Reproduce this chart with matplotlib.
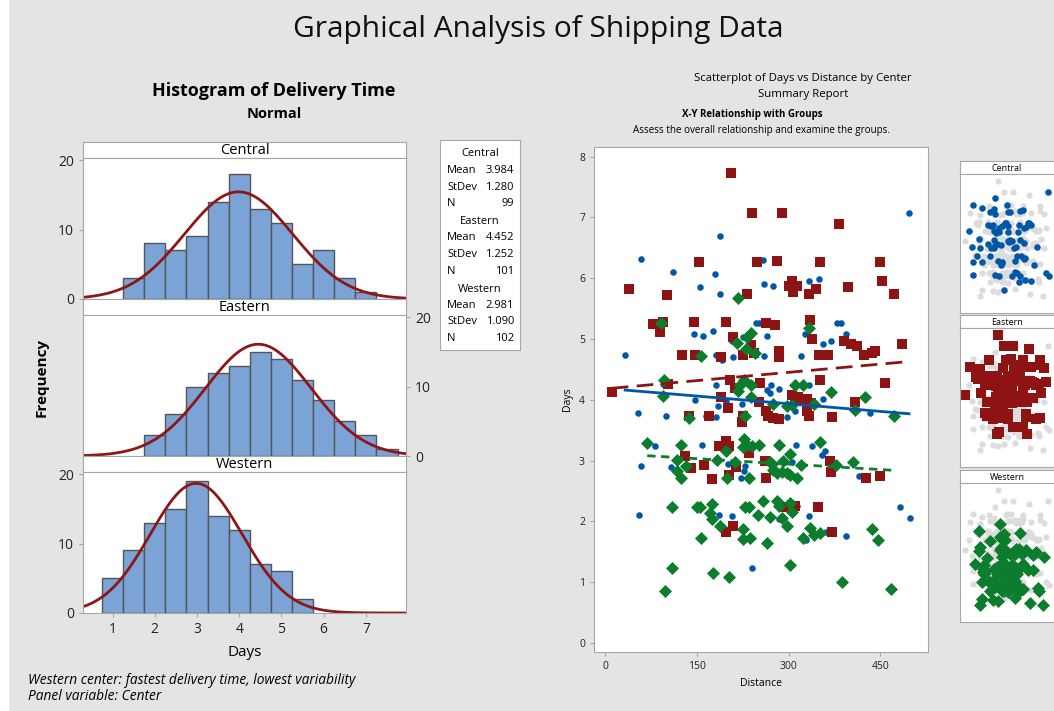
import numpy as np
import matplotlib.pyplot as plt
from matplotlib.patches import Rectangle

plt.rcParams['font.family'] = ['Open Sans', 'DejaVu Sans']

# ---- histogram data (bin width 0.5 days) ----
centers = ['Central', 'Eastern', 'Western']
hist_start = [1.25, 1.75, 0.75]
hist_counts = [
    [3, 8, 7, 9, 14, 18, 13, 11, 5, 7, 3, 1],
    [3, 6, 10, 12, 13, 15, 14, 11, 8, 5, 3, 1],
    [5, 9, 13, 15, 19, 14, 12, 7, 6, 2],
]
means = [3.984, 4.452, 2.981]
stdevs = [1.280, 1.252, 1.090]
ns = [99, 101, 102]

# ---- scatter data (distance, days) ----
central_pts = [
    (59, 6.32), (188, 6.70), (111, 6.11), (180, 6.07), (155, 5.86), (188, 5.74), (247, 5.26), (252, 5.26),
    (145, 5.09), (161, 5.05), (176, 5.14), (208, 4.96), (226, 5.03), (33, 4.74), (181, 4.74), (191, 4.65),
    (210, 4.70), (94, 4.26), (182, 4.24), (147, 3.99), (185, 3.89), (198, 3.98), (224, 3.93), (54, 3.78),
    (497, 7.07), (258, 6.30), (260, 5.91), (275, 5.87), (333, 5.96), (349, 5.98), (379, 5.26), (385, 5.26),
    (327, 5.09), (265, 5.05), (394, 5.09), (356, 4.92), (369, 4.97), (260, 4.72), (320, 4.72), (272, 4.24),
    (284, 4.18), (265, 4.16), (270, 4.12), (333, 4.24), (356, 4.02), (433, 3.79), (311, 3.82), (297, 3.72),
    (100, 3.74), (165, 3.74), (182, 3.71), (82, 3.24), (59, 2.91), (108, 2.89), (159, 3.26), (201, 2.95),
    (229, 2.91), (227, 2.83), (223, 2.72), (56, 2.10), (187, 2.11), (208, 2.09), (241, 1.24),
    (312, 3.26), (338, 3.24), (360, 3.16), (354, 3.09), (306, 2.97), (416, 2.74), (306, 2.31), (314, 2.25),
    (284, 2.04), (333, 2.08), (329, 1.70), (394, 1.76), (362, 1.82), (482, 2.23), (499, 2.06),
]
eastern_pts = [
    (206, 7.74), (241, 7.07), (153, 6.26), (249, 6.26), (40, 5.82), (101, 5.72), (232, 5.74), (78, 5.25),
    (94, 5.28), (90, 5.11), (145, 5.28), (197, 5.28), (210, 5.04), (239, 4.90), (126, 4.74), (147, 4.74),
    (190, 4.70), (225, 4.74), (243, 4.77), (11, 4.13), (103, 4.26), (190, 4.05), (205, 4.32), (213, 4.19),
    (201, 3.86), (252, 3.97), (289, 7.07), (383, 6.90), (281, 6.28), (352, 6.26), (450, 6.26), (305, 5.96),
    (300, 5.87), (314, 5.87), (308, 5.78), (345, 5.83), (333, 5.74), (398, 5.85), (452, 5.95), (473, 5.74),
    (263, 5.27), (278, 5.23), (335, 5.32), (339, 5.00), (390, 4.97), (402, 4.92), (412, 4.89), (486, 4.92),
    (284, 4.81), (285, 4.71), (349, 4.74), (364, 4.74), (423, 4.74), (436, 4.77), (442, 4.81), (254, 4.28),
    (352, 4.32), (457, 4.27), (316, 4.05), (322, 3.98), (330, 4.02), (310, 4.02), (306, 4.08), (336, 3.95),
    (409, 3.97), (263, 3.81), (330, 3.81), (371, 3.71), (138, 3.73), (170, 3.73), (225, 3.73), (224, 3.63),
    (186, 3.24), (197, 3.33), (203, 3.24), (130, 3.08), (140, 2.88), (162, 2.93), (175, 2.70), (214, 2.89),
    (203, 2.77), (236, 3.13), (198, 1.83), (210, 1.92), (262, 3.00), (263, 2.72), (367, 3.00), (369, 2.82),
    (427, 2.72), (450, 2.75), (292, 2.23), (311, 2.25), (348, 2.23), (371, 1.83), (267, 3.73), (275, 3.70),
    (285, 3.68), (333, 3.74),
]
western_pts = [
    (217, 5.68), (92, 5.27), (232, 5.04), (239, 5.10), (216, 4.93), (230, 4.84), (245, 4.77), (157, 4.72),
    (96, 4.33), (94, 4.07), (221, 4.25), (227, 4.33), (218, 4.15), (239, 4.24), (239, 4.05), (333, 5.18),
    (311, 4.24), (324, 4.24), (369, 4.13), (425, 4.04), (275, 3.93), (297, 3.89), (305, 3.92), (342, 3.93),
    (408, 3.84), (472, 3.74), (229, 3.74), (138, 3.70), (69, 3.29), (124, 3.26), (117, 3.01), (132, 2.91),
    (118, 2.83), (124, 2.72), (183, 3.01), (198, 3.15), (212, 2.97), (199, 2.72), (227, 3.35), (225, 3.23),
    (232, 3.26), (240, 3.24), (251, 3.26), (235, 2.72), (109, 2.24), (150, 2.24), (155, 2.24), (175, 2.28),
    (172, 2.13), (175, 2.04), (188, 1.92), (157, 1.72), (225, 1.87), (226, 1.71), (237, 1.72), (229, 2.24),
    (235, 2.24), (250, 2.11), (110, 1.24), (176, 1.15), (202, 1.09), (98, 0.86), (284, 3.26), (303, 3.11),
    (351, 3.31), (270, 2.98), (273, 2.95), (291, 3.00), (320, 2.93), (378, 2.93), (406, 2.97), (275, 2.84),
    (281, 2.79), (289, 2.81), (297, 2.79), (303, 2.76), (314, 2.71), (258, 2.33), (281, 2.33), (284, 2.25),
    (302, 2.30), (306, 2.16), (270, 2.07), (289, 2.05), (297, 1.93), (265, 1.64), (324, 1.72), (335, 1.89),
    (341, 1.78), (352, 1.81), (436, 1.87), (446, 1.70), (303, 1.28), (388, 1.01), (468, 0.89),
]
# fitted lines (distance endpoints, days endpoints)
fit_x = [(33, 497), (11, 486), (69, 471)]
fit_y = [(4.16, 3.77), (4.19, 4.62), (3.08, 2.84)]

W, H = 1054, 711
BG = '#e4e4e4'
EDGE = '#a6a6a6'
BAR = '#7ba3d6'
CURVE = '#8e1616'
cols = ['#0057a8', '#8e1414', '#0b7d2c']
marks = ['o', 's', 'D']
msize = [22, 46, 44]


def box(l, t, r, b):
    return [l / W, 1 - b / H, (r - l) / W, (b - t) / H]


def txt(x, y, s, **kw):
    fig.text(x / W, 1 - y / H, s, **kw)


def style(ax):
    for sp in ax.spines.values():
        sp.set_color(EDGE)
    ax.tick_params(colors=EDGE, labelcolor='#222222', length=3)


fig = plt.figure(figsize=(W / 100, H / 100), dpi=100, facecolor=BG)
fig.patches.append(Rectangle((0, 0), 8 / W, 1, transform=fig.transFigure, color='white', zorder=0))

txt(538, 30, 'Graphical Analysis of Shipping Data', fontsize=21.5, ha='center', va='center', color='#111111')
txt(274, 91, 'Histogram of Delivery Time', fontsize=13, fontweight='bold', ha='center', va='center')
txt(274, 114, 'Normal', fontsize=10.5, fontweight='bold', ha='center', va='center')

# ---- histograms ----
tops = [142, 299, 456]
xs = np.linspace(0.3, 7.95, 300)
for i in range(3):
    t = tops[i]
    sax = fig.add_axes(box(83, t, 406, t + 16))
    sax.set_facecolor('white')
    sax.set_xticks([])
    sax.set_yticks([])
    style(sax)
    sax.text(0.5, 0.45, centers[i], ha='center', va='center', fontsize=10.5, transform=sax.transAxes)

    ax = fig.add_axes(box(83, t + 16, 406, t + 157))
    lefts = hist_start[i] + 0.5 * np.arange(len(hist_counts[i]))
    ax.bar(lefts, hist_counts[i], width=0.5, align='edge', color=BAR, edgecolor='#555555', linewidth=1)
    ys = ns[i] * 0.5 * np.exp(-0.5 * ((xs - means[i]) / stdevs[i]) ** 2) / (stdevs[i] * np.sqrt(2 * np.pi))
    ax.plot(xs, ys, color=CURVE, lw=2)
    ax.set_xlim(0.3, 7.95)
    ax.set_ylim(0, 20.3)
    ax.set_yticks([0, 10, 20])
    style(ax)
    ax.tick_params(labelsize=10)
    if i == 1:
        ax.yaxis.tick_right()
    if i < 2:
        ax.set_xticks([])
    else:
        ax.set_xticks(range(1, 8))
        ax.set_xlabel('Days', fontsize=11, labelpad=6)

txt(42, 378, 'Frequency', fontsize=11, fontweight='bold', rotation=90, ha='center', va='center')

# stats legend box
lax = fig.add_axes(box(440, 140, 520, 350))
lax.set_facecolor('white')
lax.set_xticks([])
lax.set_yticks([])
style(lax)
y0 = 154
for i in range(3):
    txt(480, y0, centers[i], fontsize=8, ha='center', va='center')
    rows = [('Mean', '%.3f' % means[i]), ('StDev', '%.3f' % stdevs[i]), ('N', str(ns[i]))]
    for k, (a, b) in enumerate(rows):
        yy = y0 + 16.5 * (k + 1)
        txt(447, yy, a, fontsize=8, ha='left', va='center')
        txt(514, yy, b, fontsize=8, ha='right', va='center')
    y0 += 67.5

txt(28, 680, 'Western center: fastest delivery time, lowest variability', fontsize=9.9, style='italic', va='center')
txt(28, 697, 'Panel variable: Center', fontsize=9.9, style='italic', va='center')

# ---- scatterplot ----
txt(803, 79, 'Scatterplot of Days vs Distance by Center', fontsize=8.2, ha='center', va='center')
txt(803, 95, 'Summary Report', fontsize=8.2, ha='center', va='center')
txt(752, 115, 'X-Y Relationship with Groups', fontsize=7, fontweight='bold', ha='center', va='center')
txt(762, 130, 'Assess the overall relationship and examine the groups.', fontsize=7.1, ha='center', va='center')

groups = [central_pts, eastern_pts, western_pts]
ax = fig.add_axes(box(594, 147, 928, 652))
ax.set_facecolor('white')
for i in range(3):
    d = np.array(groups[i])
    ax.scatter(d[:, 0], d[:, 1], s=msize[i], marker=marks[i], color=cols[i], linewidths=0, zorder=3)
ax.plot(fit_x[0], fit_y[0], color=cols[0], lw=2, zorder=4)
ax.plot(fit_x[1], fit_y[1], color=cols[1], lw=2, ls=(0, (6, 3)), zorder=4)
ax.plot(fit_x[2], fit_y[2], color=cols[2], lw=2, ls=(0, (3, 2)), zorder=4)
ax.set_xlim(-18, 528)
ax.set_ylim(-0.15, 8.16)
ax.set_xticks([0, 150, 300, 450])
ax.set_yticks(range(9))
style(ax)
ax.tick_params(labelsize=7.5)
ax.set_xlabel('Distance', fontsize=7.5, labelpad=4)
ax.set_ylabel('Days', fontsize=7.5, labelpad=4)

# ---- small group panels ----
allp = np.array(central_pts + eastern_pts + western_pts)
ptops = [161, 315, 470]
for i in range(3):
    t = ptops[i]
    sax = fig.add_axes(box(960, t, 1060, t + 13))
    sax.set_facecolor('white')
    sax.set_xticks([])
    sax.set_yticks([])
    style(sax)
    sax.text(0.47, 0.45, centers[i], ha='center', va='center', fontsize=6.5, transform=sax.transAxes)
    pax = fig.add_axes(box(960, t + 13, 1060, t + 152))
    pax.set_facecolor('white')
    pax.scatter(allp[:, 0], allp[:, 1], s=20, color='#dcdcdc', linewidths=0)
    d = np.array(groups[i])
    pax.scatter(d[:, 0], d[:, 1], s=msize[i], marker=marks[i], color=cols[i], linewidths=0)
    pax.set_xlim(-18, 566)
    pax.set_ylim(-0.15, 8.16)
    pax.set_xticks([])
    pax.set_yticks([])
    style(pax)

fig.savefig('out.png', dpi=100, facecolor=BG)
